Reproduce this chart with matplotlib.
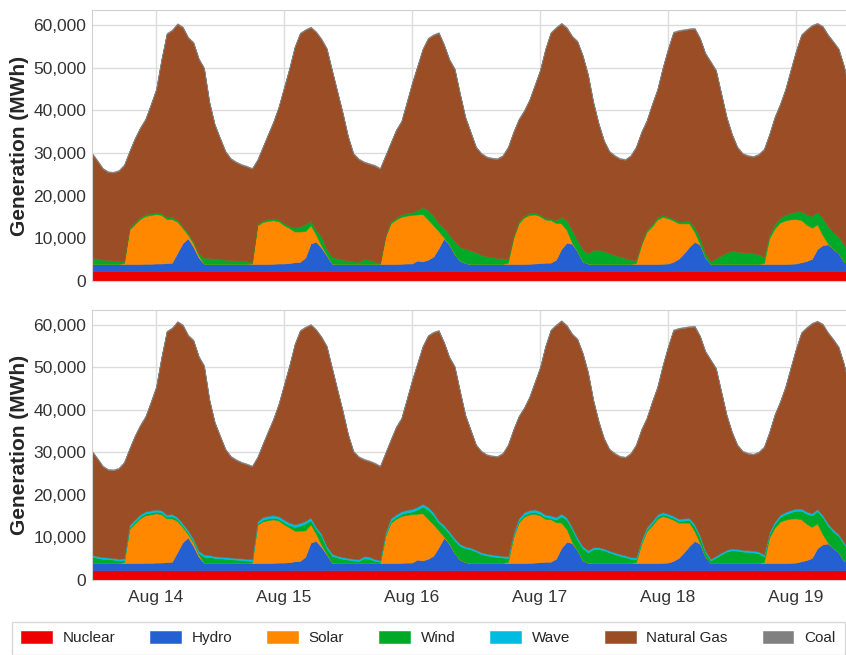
import matplotlib
matplotlib.use("Agg")
import matplotlib.pyplot as plt
import matplotlib.dates as mdates
from matplotlib.ticker import FuncFormatter
import pandas as pd
import seaborn as sns

sns.set_style("whitegrid")
plt.rcParams['font.family'] = ['Liberation Sans', 'DejaVu Sans']

# hourly generation, thousands of MWh, starting Aug 13 12:00
hours = pd.date_range("2023-08-13 12:00", periods=145, freq="h")

nuclear = ([2.3] * 12 + [2.3] * 24 + [2.3] * 24 + [2.3] * 24 + [2.3] * 24
           + [2.3] * 24 + [2.3] * 13)

hydro = ([1.7, 1.7, 1.7, 1.7, 1.7, 1.7, 1.7, 1.7, 1.7, 1.7, 1.75, 1.75]
         + [1.8, 1.8, 1.9, 2.0, 4.3, 6.6, 7.7, 5.7, 3.2, 1.7, 1.7, 1.7,
            1.7, 1.7, 1.7, 1.7, 1.7, 1.7, 1.7, 1.7, 1.7, 1.7, 1.75, 1.8]
         + [1.8, 1.9, 2.1, 2.2, 3.2, 6.5, 6.9, 5.5, 3.7, 1.8, 1.7, 1.7,
            1.7, 1.7, 1.7, 1.7, 1.7, 1.7, 1.7, 1.7, 1.7, 1.7, 1.75, 1.8]
         + [1.8, 2.5, 2.3, 2.7, 3.4, 5.4, 7.7, 6.2, 4.0, 2.5, 1.9, 1.7,
            1.7, 1.7, 1.7, 1.7, 1.7, 1.7, 1.7, 1.7, 1.7, 1.7, 1.75, 1.8]
         + [1.9, 2.0, 2.0, 2.7, 5.2, 6.7, 6.4, 4.7, 2.3, 1.8, 1.7, 1.7,
            1.7, 1.7, 1.7, 1.7, 1.7, 1.7, 1.7, 1.7, 1.7, 1.7, 1.7, 1.75]
         + [1.8, 2.2, 2.9, 4.2, 5.7, 6.9, 6.2, 3.2, 1.7, 1.7, 1.7, 1.7,
            1.7, 1.7, 1.7, 1.7, 1.7, 1.7, 1.7, 1.7, 1.7, 1.7, 1.7, 1.75]
         + [1.8, 2.1, 2.4, 2.9, 5.2, 6.1, 6.3, 5.2, 4.2, 2.2, 1.8, 1.7, 1.7])

solar = ([0, 0, 0, 0, 0, 0, 0.2, 8.0, 9.3, 10.5, 11.2, 11.4]
         + [11.6, 11.4, 10.3, 10.2, 7.3, 3.5, 0.8, 0.8, 0.5, 0, 0, 0,
            0, 0, 0, 0, 0, 0, 0.1, 9.0, 9.8, 10.1, 10.2, 9.9]
         + [9.0, 8.2, 7.2, 7.1, 6.2, 4.3, 1.7, 0.5, 0.2, 0, 0, 0,
            0, 0, 0, 0, 0, 0, 0, 6.3, 9.5, 10.4, 11.0, 11.2]
         + [11.4, 10.8, 11.1, 9.4, 7.4, 4.0, 0.2, 0.1, 0, 0, 0, 0,
            0, 0, 0, 0, 0, 0, 0.3, 6.0, 9.5, 10.9, 11.4, 11.5]
         + [11.0, 10.1, 10.0, 8.6, 6.0, 3.0, 0.3, 0, 0, 0, 0, 0,
            0, 0, 0, 0, 0, 0, 0.2, 4.5, 7.5, 8.8, 10.4, 11.0]
         + [10.6, 9.7, 8.3, 7.0, 5.5, 2.3, 0.2, 0, 0, 0, 0, 0,
            0, 0, 0, 0, 0, 0, 0.2, 6.0, 8.3, 9.7, 10.2, 10.4]
         + [10.4, 9.9, 8.5, 7.3, 5.8, 2.4, 0.2, 0, 0, 0, 0, 0, 0])

wind = ([1.5, 1.2, 1.0, 0.9, 0.8, 0.6, 0.4, 0.4, 0.4, 0.4, 0.4, 0.4]
        + [0.4, 0.4, 0.4, 0.5, 0.4, 0.4, 0.4, 0.4, 0.4, 1.5, 1.4, 1.2,
           1.1, 1.0, 0.9, 0.8, 0.7, 0.6, 0.4, 0.3, 0.4, 0.4, 0.4, 0.4]
        + [0.5, 0.5, 0.9, 1.2, 1.6, 1.0, 1.1, 2.1, 1.3, 1.6, 1.3, 1.0,
           0.8, 0.6, 0.5, 1.1, 1.0, 0.5, 0.3, 0.3, 0.4, 0.4, 0.5, 0.6]
        + [0.6, 1.0, 1.6, 2.2, 2.2, 1.8, 2.2, 2.3, 3.0, 3.2, 3.3, 3.2,
           2.7, 2.1, 1.8, 1.6, 1.4, 1.3, 0.9, 0.4, 0.4, 0.4, 0.4, 0.4]
        + [0.4, 0.4, 0.3, 0.6, 1.5, 2.2, 3.0, 2.5, 2.9, 2.4, 3.3, 3.3,
           3.0, 2.5, 2.1, 1.7, 1.4, 1.0, 0.7, 0.4, 0.4, 0.5, 0.5, 0.4]
        + [0.4, 0.4, 0.4, 0.5, 0.6, 1.1, 1.3, 1.0, 0.6, 1.3, 2.0, 2.7,
           3.0, 2.9, 2.7, 2.6, 2.5, 2.3, 1.4, 0.8, 0.9, 1.1, 1.3, 1.5]
        + [1.8, 2.0, 2.4, 2.7, 2.9, 4.0, 4.0, 3.9, 3.9, 4.0, 2.4, 1.8, 1.5])

wave = ([0.4, 0.4, 0.4, 0.4, 0.4, 0.4, 0.5, 0.5, 0.5, 0.5, 0.5, 0.5]
        + [0.5, 0.5, 0.5, 0.5, 0.5, 0.5, 0.5, 0.5, 0.5, 0.5, 0.5, 0.4,
           0.4, 0.4, 0.4, 0.4, 0.4, 0.4, 0.4, 0.5, 0.6, 0.6, 0.6, 0.6]
        + [0.6, 0.6, 0.6, 0.6, 0.6, 0.6, 0.5, 0.5, 0.5, 0.5, 0.4, 0.4,
           0.4, 0.4, 0.4, 0.5, 0.5, 0.4, 0.4, 0.5, 0.6, 0.6, 0.6, 0.6]
        + [0.6, 0.6, 0.6, 0.6, 0.6, 0.5, 0.5, 0.5, 0.5, 0.5, 0.4, 0.4,
           0.4, 0.4, 0.4, 0.4, 0.4, 0.4, 0.4, 0.5, 0.6, 0.6, 0.6, 0.6]
        + [0.6, 0.6, 0.6, 0.6, 0.6, 0.5, 0.5, 0.5, 0.5, 0.5, 0.4, 0.4,
           0.4, 0.4, 0.4, 0.4, 0.4, 0.4, 0.4, 0.5, 0.5, 0.5, 0.5, 0.5]
        + [0.5, 0.5, 0.5, 0.5, 0.5, 0.5, 0.5, 0.4, 0.4, 0.4, 0.4, 0.4,
           0.4, 0.4, 0.4, 0.4, 0.4, 0.4, 0.4, 0.4, 0.5, 0.5, 0.5, 0.5]
        + [0.5, 0.5, 0.5, 0.5, 0.5, 0.5, 0.5, 0.5, 0.4, 0.4, 0.4, 0.4, 0.4])

natural_gas = ([24.3, 22.9, 21.3, 20.6, 20.6, 21.2, 22.5, 17.9, 19.6, 20.9, 22.2, 25.4]
               + [28.7, 35.9, 43.0, 43.7, 45.9, 46.6, 45.8, 46.6, 45.6, 44.3, 36.4, 31.4,
                  28.3, 25.3, 23.7, 23.0, 22.5, 22.2, 21.8, 15.0, 17.1, 19.8, 22.6, 26.4]
               + [31.7, 36.9, 42.3, 45.2, 45.5, 45.3, 46.3, 46.2, 46.9, 43.6, 39.0, 34.3,
                  29.0, 25.2, 24.0, 22.7, 22.4, 22.5, 22.0, 18.7, 18.4, 20.5, 21.8, 25.9]
               + [30.2, 33.7, 37.0, 40.2, 42.3, 44.6, 42.9, 40.9, 40.3, 35.8, 30.8, 27.6,
                  24.6, 23.7, 23.2, 23.1, 23.2, 24.0, 26.1, 24.4, 23.9, 24.5, 26.5, 29.8]
               + [33.7, 39.5, 43.5, 45.1, 45.3, 45.1, 45.3, 46.6, 45.3, 41.8, 34.5, 29.5,
                  25.8, 23.8, 23.2, 22.9, 23.0, 24.3, 26.4, 25.9, 25.6, 28.0, 29.9, 34.4]
               + [39.2, 43.6, 44.7, 44.8, 44.9, 46.5, 46.8, 46.8, 46.7, 44.0, 37.8, 31.6,
                  27.3, 24.4, 23.1, 22.7, 22.6, 23.3, 25.2, 23.5, 25.1, 26.5, 29.3, 33.4]
               + [37.5, 41.3, 43.2, 44.6, 44.1, 44.8, 44.8, 44.6, 43.9, 41.8, 38.3, 34.0, 29.8])

coal = ([0.2] * 12 + [0.2] * 24 + [0.2] * 24 + [0.2] * 24 + [0.2] * 24
        + [0.2] * 24 + [0.2] * 13)

labels = ["Nuclear", "Hydro", "Solar", "Wind", "Wave", "Natural Gas", "Coal"]
colors = ["#ee0000", "#2460d2", "#ff8800", "#00aa28", "#00bce3", "#9b4e26", "#808080"]


def mwh(series):
    return [v * 1000 for v in series]


fig = plt.figure(figsize=(8.46, 6.55), dpi=100)
ax1 = fig.add_axes([92 / 846, 1 - 281 / 655, 1 - 92 / 846, 271 / 655])
ax2 = fig.add_axes([92 / 846, 1 - 580 / 655, 1 - 92 / 846, 270 / 655], sharex=ax1)

top = [nuclear, hydro, solar, wind, natural_gas, coal]
top_colors = [colors[i] for i in (0, 1, 2, 3, 5, 6)]
p1 = ax1.stackplot(hours, *[mwh(s) for s in top], colors=top_colors)

bottom = [nuclear, hydro, solar, wind, wave, natural_gas, coal]
polys = ax2.stackplot(hours, *[mwh(s) for s in bottom], colors=colors,
                      labels=labels)

for p in list(p1) + list(polys):
    p.set_edgecolor(p.get_facecolor())
    p.set_linewidth(0.4)

for ax in (ax1, ax2):
    ax.set_ylim(0, 63500)
    ax.set_xlim(hours[0], pd.Timestamp("2023-08-19 09:24"))
    ax.yaxis.set_major_formatter(FuncFormatter(lambda v, p: f"{v:,.0f}"))
    ax.set_ylabel("Generation (MWh)", fontsize=15, fontweight="bold", labelpad=3)
    ax.tick_params(axis="y", labelsize=12.5, pad=0.5, colors="#333333")
    ax.tick_params(axis="x", labelsize=12.5, pad=4, colors="#333333")
    ax.spines["right"].set_visible(False)
    for s in ax.spines.values():
        s.set_color("#d0d0d0")
    ax.grid(color="#dcdcdc", lw=1)

ax1.xaxis.set_major_locator(mdates.DayLocator())
ax1.xaxis.set_major_formatter(mdates.DateFormatter("%b %d"))
plt.setp(ax1.get_xticklabels(), visible=False)

fig.legend(polys, labels, loc="lower left", bbox_to_anchor=(12 / 846, 0.5 / 655),
           ncol=7, fontsize=11, frameon=True, fancybox=False, edgecolor="#d0d0d0",
           handlelength=2.0, handleheight=0.75, handletextpad=0.7,
           columnspacing=2.3, borderpad=0.6, borderaxespad=0)

fig.savefig("out.png", dpi=100)
